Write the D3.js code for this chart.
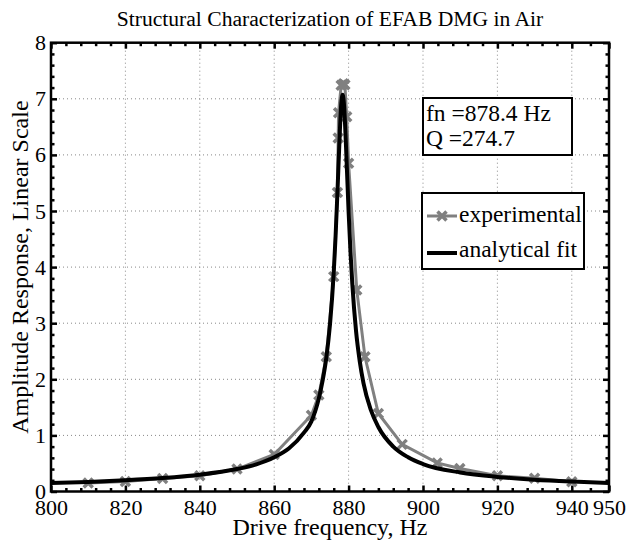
<!DOCTYPE html>
<html>
<head>
<meta charset="utf-8">
<script src="https://cdn.jsdelivr.net/npm/d3@7"></script>
<style>
  body { margin: 0; background: #fff; }
  svg text { font-family: "Liberation Serif", "Times New Roman", serif !important; fill: #000; }
</style>
</head>
<body>
<div id="chart"></div>
<script>
var serif = "'Liberation Serif', 'Times New Roman', serif";

// experimental sweep (Hz, amplitude)
var expFreq = [810, 820, 830, 840, 850, 860, 870, 872, 874, 876, 877, 877.2, 877.3, 878, 878.6, 879, 879.5, 880, 882.2, 884.4, 888, 894.4, 903.8, 909.9, 920, 930, 940];
var expAmp  = [0.15, 0.18, 0.23, 0.28, 0.40, 0.66, 1.36, 1.72, 2.40, 3.83, 5.33, 6.30, 6.75, 7.24, 7.27, 7.25, 6.68, 5.85, 3.59, 2.40, 1.39, 0.84, 0.51, 0.41, 0.28, 0.235, 0.175];

// analytical fit curve
var fitFreq = [800, 810, 820, 830, 840, 850, 855, 860, 864, 868, 870, 872, 873, 874, 875, 876, 876.5, 877, 877.5, 878, 878.4, 878.8, 879.3, 880, 880.5, 881, 882, 883, 884, 886, 888, 892, 896, 900, 910, 920, 930, 940, 950];
var fitAmp  = [0.15, 0.17, 0.20, 0.24, 0.30, 0.40, 0.48, 0.61, 0.77, 1.05, 1.25, 1.66, 1.97, 2.38, 2.98, 3.90, 4.55, 5.33, 6.18, 6.89, 7.07, 6.86, 6.16, 4.99, 4.28, 3.70, 2.86, 2.32, 1.93, 1.45, 1.15, 0.80, 0.61, 0.49, 0.34, 0.26, 0.21, 0.177, 0.152];

var xMajor = [800, 820, 840, 860, 880, 900, 920, 940, 950];
var xGrid  = [820, 840, 860, 880, 900, 920, 940];
var xMinor = [804, 808, 812, 816, 824, 828, 832, 836, 844, 848, 852, 856, 864, 868, 872, 876, 884, 888, 892, 896, 904, 908, 912, 916, 924, 928, 932, 936, 945];
var yMajor = [0, 1, 2, 3, 4, 5, 6, 7, 8];
var yGrid  = [1, 2, 3, 4, 5, 6, 7];
var yMinor = [0.2, 0.4, 0.6, 0.8, 1.2, 1.4, 1.6, 1.8, 2.2, 2.4, 2.6, 2.8, 3.2, 3.4, 3.6, 3.8,
              4.2, 4.4, 4.6, 4.8, 5.2, 5.4, 5.6, 5.8, 6.2, 6.4, 6.6, 6.8, 7.2, 7.4, 7.6, 7.8];

var infoLines = ["fn =878.4 Hz", "Q =274.7"];
var legendNames = ["experimental", "analytical fit"];

var margin = {top: 42.7, right: 20, bottom: 50.5, left: 51},
    width = 629 - margin.left - margin.right,
    height = 542 - margin.top - margin.bottom;

var svg = d3.select("#chart")
  .append("svg")
    .attr("width", 629)
    .attr("height", 542)
    .attr("font-family", serif)
  .append("g")
    .attr("transform", "translate(" + margin.left + "," + margin.top + ")");

var x = d3.scaleLinear().domain([800, 950]).range([0, width]);
var y = d3.scaleLinear().domain([0, 8]).range([height, 0]);

// dotted grid
svg.selectAll(".gx").data(xGrid).enter().append("line")
  .attr("x1", d => x(d)).attr("x2", d => x(d))
  .attr("y1", 0).attr("y2", height)
  .attr("stroke", "#888").attr("stroke-width", 1).attr("stroke-dasharray", "1,3");
svg.selectAll(".gy").data(yGrid).enter().append("line")
  .attr("x1", 0).attr("x2", width)
  .attr("y1", d => y(d)).attr("y2", d => y(d))
  .attr("stroke", "#888").attr("stroke-width", 1).attr("stroke-dasharray", "1,3");

// ticks, pointing inward on all four sides
function ticks(axis, vals, size) {
  return axis.tickValues(vals).tickSize(size).tickFormat("");
}
var tickGroups = [
  [ticks(d3.axisBottom(x), xMajor, -6), "translate(0," + height + ")"],
  [ticks(d3.axisBottom(x), xMinor, -3.5), "translate(0," + height + ")"],
  [ticks(d3.axisTop(x), xMajor, -6), null],
  [ticks(d3.axisTop(x), xMinor, -3.5), null],
  [ticks(d3.axisLeft(y), yMajor, -6), null],
  [ticks(d3.axisLeft(y), yMinor, -3.5), null],
  [ticks(d3.axisRight(y), yMajor, -6), "translate(" + width + ",0)"],
  [ticks(d3.axisRight(y), yMinor, -3.5), "translate(" + width + ",0)"]
];
tickGroups.forEach(function(t) {
  var g = svg.append("g").call(t[0]);
  if (t[1]) g.attr("transform", t[1]);
  g.select(".domain").remove();
  g.selectAll("line").attr("stroke", "#000").attr("stroke-width", 2.5);
});

// tick labels
var xLab = svg.append("g").attr("transform", "translate(0," + height + ")")
  .call(d3.axisBottom(x).tickValues(xMajor).tickSize(0).tickPadding(8).tickFormat(d3.format("d")));
xLab.attr("font-family", serif);
xLab.select(".domain").remove();
xLab.selectAll("text").style("font-size", "22px").style("font-family", serif).attr("dy", "0.71em");
var yLab = svg.append("g")
  .call(d3.axisLeft(y).tickValues(yMajor).tickSize(0).tickPadding(5).tickFormat(d3.format("d")));
yLab.attr("font-family", serif);
yLab.select(".domain").remove();
yLab.selectAll("text").style("font-size", "22px").style("font-family", serif);

// clip to the axes box
svg.append("clipPath").attr("id", "clip")
  .append("rect").attr("width", width).attr("height", height);

var expData = expFreq.map((f, i) => [f, expAmp[i]]);
var fitData = fitFreq.map((f, i) => [f, fitAmp[i]]);

var plot = svg.append("g").attr("clip-path", "url(#clip)");

plot.append("path")
  .datum(expData)
  .attr("fill", "none")
  .attr("stroke", "#808080")
  .attr("stroke-width", 3)
  .attr("d", d3.line().x(d => x(d[0])).y(d => y(d[1])));

var xMark = "M-4.5,-4.5L4.5,4.5M4.5,-4.5L-4.5,4.5";
plot.selectAll(".mk").data(expData).enter().append("path")
  .attr("transform", d => "translate(" + x(d[0]) + "," + y(d[1]) + ")")
  .attr("d", xMark)
  .attr("stroke", "#808080")
  .attr("stroke-width", 3.5)
  .attr("fill", "none");

plot.append("path")
  .datum(fitData)
  .attr("fill", "none")
  .attr("stroke", "#000")
  .attr("stroke-width", 4)
  .attr("d", d3.line().curve(d3.curveMonotoneX).x(d => x(d[0])).y(d => y(d[1])));

// axes box
svg.append("rect")
  .attr("width", width).attr("height", height)
  .attr("fill", "none").attr("stroke", "#000").attr("stroke-width", 2.5);

// annotation box
var info = svg.append("g").attr("transform", "translate(" + (423 - margin.left) + "," + (98 - margin.top) + ")");
info.append("rect").attr("width", 149).attr("height", 57)
  .attr("fill", "#fff").attr("stroke", "#000").attr("stroke-width", 2);
info.selectAll("text").data(infoLines).enter().append("text")
  .attr("x", 3).attr("y", (d, i) => 23 + i * 25)
  .style("font-size", "23.5px").style("font-family", serif)
  .text(d => d);

// legend
var leg = svg.append("g").attr("transform", "translate(" + (422 - margin.left) + "," + (193 - margin.top) + ")");
leg.append("rect").attr("width", 162).attr("height", 76)
  .attr("fill", "#fff").attr("stroke", "#000").attr("stroke-width", 2);
leg.append("line").attr("x1", 5).attr("x2", 35).attr("y1", 23).attr("y2", 23)
  .attr("stroke", "#808080").attr("stroke-width", 3);
leg.append("path").attr("transform", "translate(20,23)").attr("d", xMark)
  .attr("stroke", "#808080").attr("stroke-width", 3.5);
leg.append("line").attr("x1", 5).attr("x2", 35).attr("y1", 60).attr("y2", 60)
  .attr("stroke", "#000").attr("stroke-width", 4);
leg.selectAll(".lt").data(legendNames).enter().append("text")
  .attr("x", 37).attr("y", (d, i) => 29 + i * 35)
  .style("font-size", "23.5px").style("font-family", serif)
  .text(d => d);

// titles
svg.append("text")
  .attr("x", width / 2).attr("y", -17)
  .attr("text-anchor", "middle")
  .style("font-size", "21.6px").style("font-family", serif)
  .text("Structural Characterization of EFAB DMG in Air");
svg.append("text")
  .attr("x", width / 2).attr("y", height + 44)
  .attr("text-anchor", "middle")
  .style("font-size", "24px").style("font-family", serif)
  .text("Drive frequency, Hz");
svg.append("text")
  .attr("transform", "rotate(-90)")
  .attr("x", -height / 2).attr("y", -23)
  .attr("text-anchor", "middle")
  .style("font-size", "24px").style("font-family", serif)
  .text("Amplitude Response, Linear Scale");
</script>
</body>
</html>
